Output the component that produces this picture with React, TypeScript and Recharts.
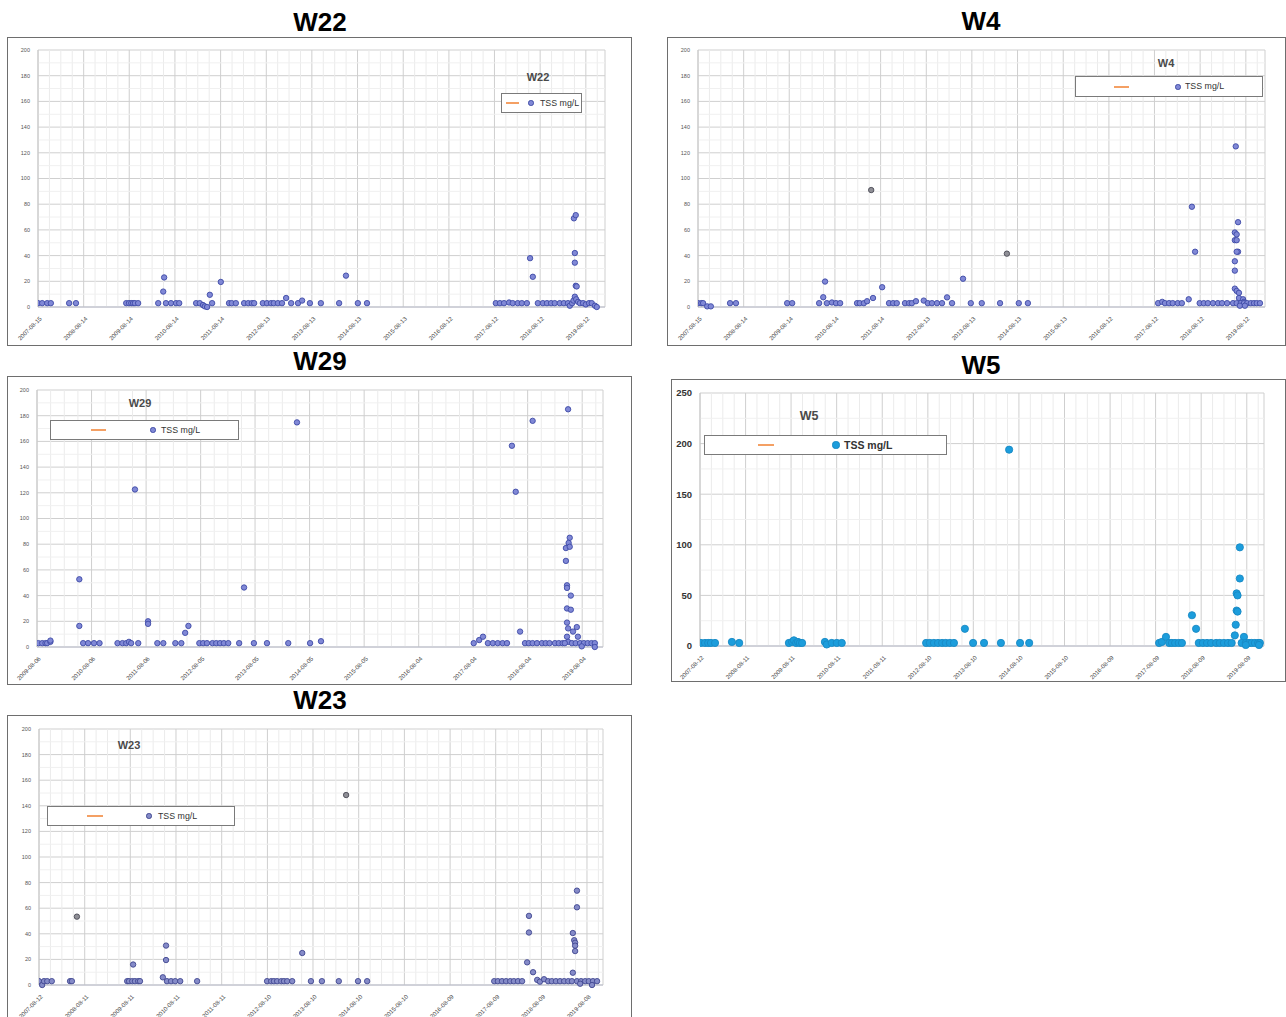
import React from 'react';
import { ScatterChart, Scatter, XAxis, YAxis, CartesianGrid, ReferenceLine } from 'recharts';

type Pt = [number, number];

// ---------- tick labels ----------
const w22Ticks = ['2007-08-15','2008-08-14','2009-08-14','2010-08-14','2011-08-14','2012-08-13','2013-08-13','2014-08-13','2015-08-13','2016-08-12','2017-08-12','2018-08-12','2019-08-12'];
const w4Ticks = ['2007-08-15','2008-08-14','2009-08-14','2010-08-14','2011-08-14','2012-08-13','2013-08-13','2014-08-13','2015-08-13','2016-08-12','2017-08-12','2018-08-12','2019-08-12'];
const w29Ticks = ['2009-08-06','2010-08-06','2011-08-06','2012-08-05','2013-08-05','2014-08-05','2015-08-05','2016-08-04','2017-08-04','2018-08-04','2019-08-04'];
const w5Ticks = ['2007-08-12','2008-08-11','2009-08-11','2010-08-11','2011-08-11','2012-08-10','2013-08-10','2014-08-10','2015-08-10','2016-08-09','2017-08-09','2018-08-09','2019-08-09'];
const w23Ticks = ['2007-08-12','2008-08-11','2009-08-11','2010-08-11','2011-08-11','2012-08-10','2013-08-10','2014-08-10','2015-08-10','2016-08-09','2017-08-09','2018-08-09','2019-08-08'];

const y200Ticks = [0, 20, 40, 60, 80, 100, 120, 140, 160, 180, 200];
const y250Ticks = [0, 50, 100, 150, 200, 250];

// ---------- series: [decimal year, TSS mg/L] ----------
const w22Points: Pt[] = [
  [2007.62,3],[2007.71,3],[2007.82,3],[2007.90,3],
  [2008.30,3],[2008.45,3],
  [2009.55,3],[2009.61,3],[2009.66,3],[2009.70,3],[2009.74,3],[2009.81,3],
  [2010.25,3],[2010.36,12],[2010.38,23],[2010.42,3],[2010.53,3],[2010.64,3],[2010.71,3],
  [2011.08,3],[2011.16,3],[2011.23,1.5],[2011.27,0.5],[2011.32,0],[2011.38,9.5],[2011.43,3],
  [2011.62,19.5],
  [2011.80,3],[2011.86,3],[2011.95,3],
  [2012.13,3],[2012.22,3],[2012.30,3],[2012.35,3],
  [2012.54,3],[2012.63,3],[2012.72,3],[2012.78,3],[2012.87,3],[2012.96,3],
  [2013.05,7],[2013.16,3],[2013.31,3],[2013.40,5],[2013.57,3],[2013.81,3],
  [2014.21,3],[2014.36,24.4],[2014.62,3],[2014.82,3],
  [2017.64,3],[2017.73,3],[2017.82,3],[2017.93,3.5],[2018.01,3],[2018.12,3],[2018.21,3],[2018.32,3],
  [2018.39,38],[2018.45,23.5],
  [2018.56,3],[2018.67,3],[2018.76,3],[2018.85,3],[2018.93,3],[2019.04,3],[2019.13,3],[2019.22,3],
  [2019.35,69],[2019.39,71.5],[2019.37,42],[2019.37,34.5],[2019.39,16.5],[2019.41,16],
  [2019.26,1],[2019.31,3],[2019.34,5],[2019.37,8],[2019.40,6],[2019.44,4],[2019.48,3],[2019.55,3],
  [2019.61,2],[2019.68,3],[2019.74,3],[2019.81,1],[2019.85,0],
];

const w4Points: Pt[] = [
  [2007.62,3],[2007.69,3],[2007.73,3],[2007.82,0.5],[2007.90,0.5],
  [2008.32,3],[2008.45,3],
  [2009.57,3],[2009.68,3],
  [2010.27,3],[2010.36,7.6],[2010.40,19.8],[2010.44,3],[2010.55,3.5],[2010.64,3],[2010.73,3],
  [2011.10,3],[2011.16,3],[2011.25,3],[2011.32,4.5],[2011.45,7],
  [2011.65,15.4],
  [2011.80,3],[2011.89,3],[2011.97,3],
  [2012.15,3],[2012.24,3],[2012.30,3],[2012.39,4.5],
  [2012.56,5],[2012.65,3],[2012.74,3],[2012.85,3],[2012.96,3],[2013.07,7.5],[2013.18,3],
  [2013.42,22],
  [2013.59,3],[2013.83,3],
  [2014.23,3],[2014.64,3],[2014.84,3],
  [2017.69,3],[2017.78,4],[2017.84,3],[2017.93,3],[2018.01,3],[2018.12,3],[2018.21,3],[2018.36,6],
  [2018.43,78],[2018.50,43],
  [2018.60,3],[2018.69,3],[2018.78,3],[2018.89,3],[2019.00,3],[2019.09,3],[2019.20,3],
  [2019.39,125],[2019.44,66],[2019.37,58],[2019.41,56.5],[2019.37,52],[2019.41,52],[2019.44,43],[2019.41,43],
  [2019.37,35.6],[2019.37,28.3],[2019.37,14.3],[2019.41,12.5],[2019.46,11],[2019.46,7],[2019.55,6],[2019.57,4],
  [2019.33,3],[2019.41,3],[2019.50,3],[2019.57,3],[2019.64,3],[2019.72,3],[2019.79,3],[2019.85,3],[2019.92,3],
  [2019.48,1],[2019.59,1],
];
const w4GrayPoints: Pt[] = [[2011.41,91],[2014.38,41.5]];

const w29Points: Pt[] = [
  [2009.62,3],[2009.69,3],[2009.75,3],[2009.78,3],[2009.84,4],[2009.84,5],
  [2010.37,52.7],[2010.37,16.4],
  [2010.44,3],[2010.53,3],[2010.64,3],[2010.74,3],
  [2011.07,3],[2011.16,3],[2011.23,3],[2011.28,4],[2011.32,3],
  [2011.39,122.6],
  [2011.45,3],
  [2011.63,20],[2011.63,18],
  [2011.80,3],[2011.91,3],
  [2012.13,3],[2012.24,3],
  [2012.31,11],[2012.37,16.4],
  [2012.57,3],[2012.64,3],[2012.71,3],[2012.81,3],[2012.88,3],[2012.95,3],[2013.02,3],[2013.10,3],
  [2013.30,3],
  [2013.39,46.3],
  [2013.57,3],[2013.81,3],[2014.20,3],
  [2014.36,174.8],
  [2014.60,3],[2014.80,4.5],
  [2017.60,3],[2017.70,5.4],[2017.77,8],[2017.86,3],[2017.95,3],[2018.04,3],[2018.13,3],[2018.21,3],
  [2018.30,156.6],[2018.37,120.8],
  [2018.45,12],
  [2018.54,3],[2018.61,3],[2018.68,3],[2018.76,3],[2018.85,3],[2018.92,3],[2018.99,3],[2019.09,3],[2019.16,3],[2019.23,3],
  [2018.68,176],
  [2019.33,185],[2019.36,85],[2019.34,81],[2019.29,77],[2019.36,78],[2019.29,67],[2019.31,48],[2019.31,46],
  [2019.38,40],[2019.31,30],[2019.38,29],[2019.31,19],[2019.33,14.5],[2019.49,15.5],[2019.42,12],[2019.51,8],
  [2019.31,8],[2019.33,4],[2019.27,3],
  [2019.40,3],[2019.47,3],[2019.55,3],[2019.62,3],[2019.69,3],[2019.76,3],[2019.82,3],[2019.58,0.5],[2019.82,0],
];

const w5Points: Pt[] = [
  [2007.63,3],[2007.72,3],[2007.79,3],[2007.85,3],[2007.94,3],
  [2008.31,4],[2008.47,3],
  [2009.56,3],[2009.63,4],[2009.67,5.6],[2009.72,3],[2009.76,4],[2009.80,3],[2009.85,3],
  [2010.35,4],[2010.39,1.5],[2010.50,3],[2010.61,3],[2010.72,3],
  [2012.57,3],[2012.65,3],[2012.74,3],[2012.83,3],[2012.92,3],[2013.00,3],[2013.09,3],[2013.18,3],
  [2013.42,17],
  [2013.60,3],[2013.84,3],
  [2014.21,3],[2014.39,194],[2014.63,3],[2014.83,3],
  [2017.68,3],[2017.74,4],[2017.83,9],[2017.90,3],[2017.96,3],[2018.03,3],[2018.11,3],[2018.18,3],
  [2018.40,30.4],[2018.49,17],
  [2018.55,3],[2018.64,3],[2018.73,3],[2018.82,3],[2018.93,3],[2019.01,3],[2019.10,3],[2019.19,3],[2019.27,3],
  [2019.45,97.5],[2019.45,66.7],[2019.38,52],[2019.40,50],[2019.38,35],[2019.40,34],[2019.36,21],[2019.34,10.5],[2019.54,9],
  [2019.49,3],[2019.58,3],[2019.65,3],[2019.71,3],[2019.78,3],[2019.85,3],[2019.89,3],[2019.58,1],[2019.87,1],
];

const w23Points: Pt[] = [
  [2007.61,3],[2007.68,0],[2007.72,3],[2007.79,3],[2007.89,3],
  [2008.29,3],[2008.33,3],
  [2009.54,3],[2009.58,3],[2009.65,3],[2009.71,3],[2009.78,3],[2009.82,3],
  [2009.67,16],
  [2010.32,6],[2010.39,30.8],[2010.39,19.5],[2010.41,3],[2010.50,3],[2010.59,3],[2010.70,3],
  [2011.07,3],
  [2012.60,3],[2012.69,3],[2012.75,3],[2012.82,3],[2012.91,3],[2012.97,3],[2013.04,3],[2013.15,3],
  [2013.37,25],
  [2013.56,3],[2013.80,3],
  [2014.17,3],[2014.59,3],[2014.79,3],
  [2017.57,3],[2017.65,3],[2017.74,3],[2017.83,3],[2017.92,3],[2018.00,3],[2018.09,3],[2018.18,3],
  [2018.29,17.7],[2018.33,54],[2018.33,41],[2018.42,10],[2018.51,4],[2018.57,2.6],[2018.66,4.5],
  [2018.75,3],[2018.83,3],[2018.92,3],[2019.01,3],[2019.10,3],[2019.19,3],[2019.27,3],
  [2019.38,73.7],[2019.38,60.7],[2019.29,40.6],[2019.32,35],[2019.34,33],[2019.34,30.7],[2019.34,26.5],[2019.29,9.6],
  [2019.38,3],[2019.47,3],[2019.56,3],[2019.64,3],[2019.73,3],[2019.82,3],[2019.45,1],[2019.71,0],
];
const w23GrayPoints: Pt[] = [[2008.44,53.4],[2014.33,148.4]];

const seriesName = 'TSS mg/L';

// ---------- helpers ----------
const FONT = '"Liberation Sans", Arial, Helvetica, sans-serif';

function toYear(s: string): number {
  const [y, m, d] = s.split('-').map(Number);
  const start = Date.UTC(y, 0, 1);
  const t = Date.UTC(y, m - 1, d);
  return y + (t - start) / (365.25 * 86400000);
}

interface PanelCfg {
  title: string;
  titleCx: number;
  titleTop: number;
  frame: { left: number; top: number; width: number; height: number };
  yAxisWidth: number;
  marginTop: number;
  marginRight: number;
  xAxisHeight: number;
  xMax: number;
  tickLabels: string[];
  yTicks: number[];
  points: Pt[];
  grayPoints?: Pt[];
  fill: string;
  stroke: string;
  r: number;
  yFont: number;
  yBold?: boolean;
  inner: { cx: number; cy: number; size: number };
  legend: { left: number; top: number; width: number; height: number; l1: number; l2: number; c: number; t: number; fs: number; bold?: boolean };
}

function XTick(props: any) {
  const { x, y, payload, vals, labels } = props;
  let idx = 0;
  let best = Infinity;
  vals.forEach((v: number, i: number) => {
    const d = Math.abs(v - payload.value);
    if (d < best) { best = d; idx = i; }
  });
  const ty = y + 2;
  const tx = x + 2;
  return (
    <text x={tx} y={ty} textAnchor="end" fontSize={6} fill="#444" fontFamily={FONT}
      transform={`rotate(-45 ${tx} ${ty})`} dy={3}>
      {labels[idx]}
    </text>
  );
}

function Panel({ cfg }: { cfg: PanelCfg }) {
  const vals = cfg.tickLabels.map(toYear);
  const xMin = vals[0];
  const minorX: number[] = [];
  for (let i = 0; i < vals.length; i++) {
    const step = i < vals.length - 1 ? vals[i + 1] - vals[i] : vals[i] - vals[i - 1];
    for (let k = 1; k < 4; k++) {
      const v = vals[i] + (k * step) / 4;
      if (v < cfg.xMax) minorX.push(v);
    }
  }
  const yStep = cfg.yTicks[1] - cfg.yTicks[0];
  const minorY: number[] = cfg.yTicks.slice(0, -1).map((v) => v + yStep / 2);
  const data = cfg.points.map(([x, y]) => ({ x, y }));
  const grayData = (cfg.grayPoints || []).map(([x, y]) => ({ x, y }));
  const { frame, legend, inner } = cfg;
  const dot = (fill: string, stroke: string) => (p: any) =>
    <circle cx={p.cx} cy={p.cy} r={cfg.r} fill={fill} stroke={stroke} strokeWidth={0.9} />;
  const mid = Math.round((legend.height - 2) / 2);

  return (
    <>
      <div style={{ position: 'absolute', left: cfg.titleCx - 100, top: cfg.titleTop, width: 200, textAlign: 'center',
        fontFamily: FONT, fontWeight: 'bold', fontSize: 26, lineHeight: '26px', color: '#000' }}>{cfg.title}</div>
      <div style={{ position: 'absolute', left: frame.left, top: frame.top, width: frame.width, height: frame.height,
        boxSizing: 'border-box', border: '1px solid #6e6e6e', background: '#fff' }} />
      <div style={{ position: 'absolute', left: frame.left, top: frame.top }}>
        <ScatterChart width={frame.width} height={frame.height}
          margin={{ top: cfg.marginTop, right: cfg.marginRight, bottom: 0, left: 0 }}>
          {minorX.map((v) => (
            <ReferenceLine key={'mx' + v} x={v} stroke="#ebebeb" strokeWidth={1} ifOverflow="hidden" />
          ))}
          {minorY.map((v) => (
            <ReferenceLine key={'my' + v} y={v} stroke="#f0f0f0" strokeWidth={1} ifOverflow="hidden" />
          ))}
          <CartesianGrid stroke="#cfcfcf" strokeWidth={1} />
          <XAxis type="number" dataKey="x" domain={[xMin, cfg.xMax]} allowDataOverflow ticks={vals}
            height={cfg.xAxisHeight} tickLine={false} axisLine={{ stroke: '#b9bccb' }} interval={0}
            tick={(p: any) => <XTick {...p} vals={vals} labels={cfg.tickLabels} />} />
          <YAxis type="number" dataKey="y" domain={[0, cfg.yTicks[cfg.yTicks.length - 1]]} ticks={cfg.yTicks}
            width={cfg.yAxisWidth} tickLine={false} axisLine={{ stroke: '#c8c8c8' }} interval={0}
            tick={{ fontSize: cfg.yFont, fill: cfg.yBold ? '#333' : '#555', fontFamily: FONT, fontWeight: cfg.yBold ? 'bold' : 'normal' }} />
          <Scatter name={seriesName} data={data} isAnimationActive={false} shape={dot(cfg.fill, cfg.stroke)} />
          {grayData.length > 0 && (
            <Scatter name={seriesName} data={grayData} isAnimationActive={false} legendType="none"
              shape={dot('#8f8f96', '#4a4a55')} />
          )}
        </ScatterChart>
      </div>
      <div style={{ position: 'absolute', left: inner.cx - 50, top: inner.cy - inner.size * 0.6, width: 100, textAlign: 'center',
        fontFamily: FONT, fontWeight: 'bold', fontSize: inner.size, lineHeight: `${inner.size * 1.2}px`, color: '#4a4a4a' }}>
        {cfg.title}
      </div>
      <div style={{ position: 'absolute', left: legend.left, top: legend.top, width: legend.width, height: legend.height,
        boxSizing: 'border-box', border: '1px solid #7a7a7a', background: '#fff' }}>
        <div style={{ position: 'absolute', left: legend.l1, width: legend.l2 - legend.l1, top: mid - 1, height: 2, background: '#f4a064' }} />
        <div style={{ position: 'absolute', left: legend.c - cfg.r, top: mid - cfg.r, width: cfg.r * 2, height: cfg.r * 2,
          borderRadius: '50%', background: cfg.fill, boxSizing: 'border-box', border: `0.9px solid ${cfg.stroke}` }} />
        <div style={{ position: 'absolute', left: legend.t, top: 0, height: legend.height - 2, lineHeight: `${legend.height - 2}px`,
          fontFamily: FONT, fontSize: legend.fs, fontWeight: legend.bold ? 'bold' : 'normal', color: '#333', whiteSpace: 'nowrap' }}>
          {seriesName}
        </div>
      </div>
    </>
  );
}

const purpleFill = '#8088d6';
const purpleStroke = '#3d4aa6';

const panels: PanelCfg[] = [
  {
    title: 'W22', titleCx: 320, titleTop: 9,
    frame: { left: 7, top: 37, width: 625, height: 309 },
    yAxisWidth: 31, marginTop: 13, marginRight: 27, xAxisHeight: 39, xMax: 2020.03,
    tickLabels: w22Ticks, yTicks: y200Ticks, points: w22Points,
    fill: purpleFill, stroke: purpleStroke, r: 2.7, yFont: 5.5,
    inner: { cx: 538, cy: 78, size: 11 },
    legend: { left: 501, top: 93, width: 81, height: 20, l1: 4, l2: 17, c: 29, t: 38, fs: 8.8 },
  },
  {
    title: 'W4', titleCx: 981, titleTop: 8,
    frame: { left: 667, top: 37, width: 619, height: 309 },
    yAxisWidth: 31, marginTop: 13, marginRight: 21, xAxisHeight: 39, xMax: 2020.03,
    tickLabels: w4Ticks, yTicks: y200Ticks, points: w4Points, grayPoints: w4GrayPoints,
    fill: purpleFill, stroke: purpleStroke, r: 2.7, yFont: 5.5,
    inner: { cx: 1166, cy: 64, size: 11 },
    legend: { left: 1075, top: 76, width: 188, height: 21, l1: 38, l2: 53, c: 102, t: 109, fs: 8.8 },
  },
  {
    title: 'W29', titleCx: 320, titleTop: 348,
    frame: { left: 7, top: 376, width: 625, height: 309 },
    yAxisWidth: 30, marginTop: 14, marginRight: 29, xAxisHeight: 38, xMax: 2019.97,
    tickLabels: w29Ticks, yTicks: y200Ticks, points: w29Points,
    fill: purpleFill, stroke: purpleStroke, r: 2.7, yFont: 5.5,
    inner: { cx: 140, cy: 404, size: 11 },
    legend: { left: 50, top: 420, width: 189, height: 20, l1: 40, l2: 55, c: 102, t: 110, fs: 8.8 },
  },
  {
    title: 'W5', titleCx: 981, titleTop: 352,
    frame: { left: 671, top: 379, width: 615, height: 303 },
    yAxisWidth: 29, marginTop: 14, marginRight: 22, xAxisHeight: 36, xMax: 2019.98,
    tickLabels: w5Ticks, yTicks: y250Ticks, points: w5Points,
    fill: '#1c9ddc', stroke: '#1789c4', r: 3.6, yFont: 9.5, yBold: true,
    inner: { cx: 809, cy: 416, size: 12.5 },
    legend: { left: 704, top: 435, width: 243, height: 20, l1: 53, l2: 69, c: 131, t: 139, fs: 10.5, bold: true },
  },
  {
    title: 'W23', titleCx: 320, titleTop: 687,
    frame: { left: 7, top: 715, width: 625, height: 309 },
    yAxisWidth: 32, marginTop: 14, marginRight: 29, xAxisHeight: 39, xMax: 2019.95,
    tickLabels: w23Ticks, yTicks: y200Ticks, points: w23Points, grayPoints: w23GrayPoints,
    fill: '#858bc8', stroke: '#3f4690', r: 2.7, yFont: 5.5,
    inner: { cx: 129, cy: 746, size: 11 },
    legend: { left: 47, top: 806, width: 188, height: 20, l1: 39, l2: 55, c: 101, t: 110, fs: 8.8 },
  },
];

export default function App() {
  return (
    <div style={{ position: 'absolute', left: 0, top: 0, width: 1286, height: 1017, overflow: 'hidden', background: '#fff' }}>
      {panels.map((cfg) => (
        <Panel key={cfg.title} cfg={cfg} />
      ))}
    </div>
  );
}
